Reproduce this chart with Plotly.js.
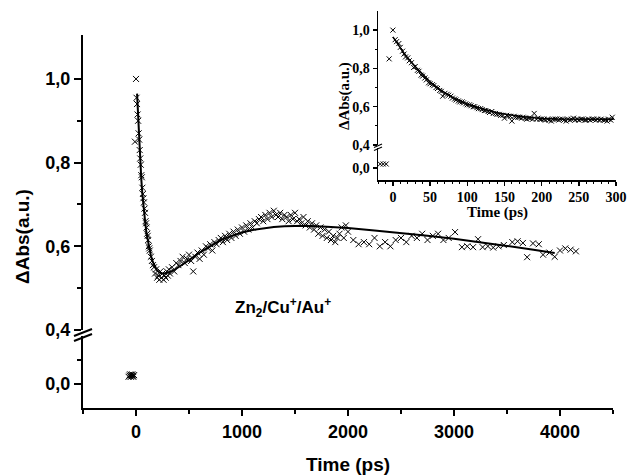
<!DOCTYPE html>
<html>
<head>
<meta charset="utf-8">
<script src="https://cdn.plot.ly/plotly-3.0.1.min.js"></script>
<style>html,body{margin:0;padding:0;background:#fff;}</style>
</head>
<body>
<div id="chart" style="width:627px;height:475px;"></div>
<script>
// ---- Main plot data ----
const mainPreT = [-70,-62,-55,-50,-45,-40,-35,-30,-25,-18];
const mainPreY = [0.03,0.035,0.04,0.03,0.038,0.032,0.04,0.035,0.03,0.037];

const mainT = [-10,0,5,10,15,20,25,30,35,40,45,50,55,60,65,70,75,80,85,90,95,100,105,110,115,120,125,130,140,150,160,170,180,190,200,210,220,230,240,250,260,270,280,290,300,310,320,340,360,380,400,420,440,460,480,500,520,540,560,580,600,620,640,660,680,700,720,740,760,780,800,820,840,860,880,900,920,940,960,980,1000,1020,1040,1060,1080,1100,1120,1140,1160,1180,1200,1220,1240,1260,1280,1300,1320,1340,1360,1380,1400,1420,1440,1460,1480,1500,1520,1540,1560,1580,1600,1620,1640,1660,1680,1700,1720,1740,1760,1780,1800,1820,1840,1860,1880,1900,1920,1940,1960,1980,2000,2050,2100,2150,2200,2250,2300,2350,2400,2450,2500,2550,2600,2650,2700,2750,2800,2850,2900,2950,3010,3075,3125,3180,3227,3270,3320,3370,3420,3470,3550,3600,3650,3690,3745,3800,3840,3900,3950,4000,4050,4100,4150];
const mainY = [0.85,1.0,0.955,0.94,0.915,0.9,0.87,0.855,0.83,0.81,0.795,0.77,0.765,0.74,0.725,0.715,0.705,0.69,0.68,0.66,0.655,0.645,0.63,0.625,0.615,0.6,0.595,0.59,0.575,0.565,0.555,0.55,0.535,0.545,0.525,0.53,0.52,0.54,0.525,0.535,0.52,0.53,0.525,0.54,0.53,0.545,0.535,0.55,0.54,0.56,0.555,0.565,0.575,0.56,0.57,0.58,0.565,0.54,0.575,0.585,0.57,0.59,0.58,0.6,0.595,0.605,0.59,0.61,0.605,0.615,0.62,0.61,0.625,0.615,0.63,0.62,0.635,0.625,0.64,0.63,0.645,0.635,0.65,0.64,0.655,0.645,0.66,0.655,0.665,0.67,0.66,0.675,0.665,0.68,0.67,0.685,0.675,0.67,0.68,0.665,0.675,0.67,0.66,0.675,0.665,0.68,0.66,0.665,0.655,0.67,0.65,0.66,0.645,0.655,0.64,0.65,0.63,0.645,0.625,0.64,0.62,0.635,0.615,0.625,0.61,0.62,0.63,0.645,0.62,0.65,0.635,0.615,0.605,0.61,0.605,0.62,0.6,0.61,0.6,0.615,0.62,0.61,0.625,0.62,0.63,0.615,0.625,0.63,0.615,0.62,0.634,0.598,0.6,0.598,0.617,0.598,0.6,0.597,0.6,0.603,0.61,0.612,0.608,0.574,0.607,0.605,0.58,0.585,0.575,0.59,0.595,0.592,0.588];

const fitT = [10,20,30,40,50,60,70,80,90,100,120,140,160,180,200,225,250,275,300,350,400,450,500,600,700,800,900,1000,1100,1200,1300,1400,1500,1600,1800,2000,2250,2500,2750,3000,3250,3500,3750,3950];
const fitY = [0.965,0.905,0.85,0.80,0.76,0.725,0.695,0.67,0.65,0.63,0.6,0.578,0.562,0.55,0.542,0.537,0.535,0.535,0.537,0.542,0.55,0.558,0.567,0.585,0.6,0.615,0.625,0.633,0.639,0.643,0.646,0.648,0.649,0.649,0.647,0.644,0.638,0.632,0.625,0.618,0.61,0.601,0.592,0.584];

// ---- Inset data ----
const insPreT = [-17,-13,-9];
const insPreY = [0.02,0.02,0.02];
const insT = [-5,0,3,5,8,10,13,15,17,20,22,25,28,30,33,35,38,40,43,45,48,50,53,55,58,60,63,65,67,70,73,75,78,80,83,85,88,90,93,95,98,100,103,105,108,110,113,115,118,120,123,125,128,130,133,135,138,140,143,145,148,150,153,155,158,160,163,165,168,170,173,175,178,180,183,185,188,190,193,195,198,200,203,205,208,210,213,215,218,220,223,225,228,230,233,235,238,240,243,245,248,250,253,255,258,260,263,265,268,270,273,275,278,280,283,285,288,290,293,295];
const insY = [0.85,1.0,0.95,0.94,0.93,0.91,0.89,0.875,0.86,0.855,0.84,0.83,0.805,0.81,0.79,0.785,0.765,0.76,0.75,0.74,0.725,0.72,0.715,0.71,0.7,0.695,0.685,0.68,0.655,0.67,0.665,0.66,0.655,0.645,0.64,0.635,0.63,0.625,0.625,0.62,0.615,0.61,0.61,0.605,0.6,0.6,0.595,0.59,0.59,0.585,0.58,0.58,0.575,0.57,0.575,0.565,0.565,0.56,0.56,0.555,0.555,0.54,0.555,0.55,0.55,0.525,0.55,0.545,0.545,0.545,0.54,0.545,0.54,0.535,0.54,0.54,0.535,0.565,0.535,0.54,0.535,0.535,0.535,0.53,0.535,0.53,0.525,0.535,0.535,0.535,0.53,0.535,0.535,0.53,0.525,0.535,0.53,0.535,0.54,0.53,0.535,0.53,0.535,0.535,0.53,0.53,0.535,0.53,0.535,0.535,0.53,0.535,0.53,0.535,0.53,0.53,0.525,0.535,0.53,0.545];
const insFitT = [0,5,10,15,20,25,30,35,40,45,50,60,70,80,90,100,110,120,130,140,150,160,170,180,190,200,220,240,260,280,297];
const insFitY = [0.965,0.935,0.905,0.88,0.855,0.83,0.81,0.79,0.77,0.75,0.73,0.7,0.672,0.65,0.632,0.615,0.601,0.589,0.578,0.569,0.562,0.555,0.55,0.546,0.542,0.539,0.536,0.535,0.534,0.534,0.534];

// ---- Tick labels ----
const mainXTickVals = [0,1000,2000,3000,4000];
const mainXTickText = ['0','1000','2000','3000','4000'];
const mainYTickVals = [0.4,0.6,0.8,1.0];
const mainYTickText = ['0,4','0,6','0,8','1,0'];
const lowYTickVals = [0];
const lowYTickText = ['0,0'];
const insXTickVals = [0,50,100,150,200,250,300];
const insXTickText = ['0','50','100','150','200','250','300'];

const SANS = 'Liberation Sans, Arial, sans-serif';
const SERIF = 'Liberation Serif, Times New Roman, serif';
const mainFont = {family: SANS, size: 18, color: '#000', weight: 'bold'};
const insFont = {family: SERIF, size: 14, color: '#000', weight: 'bold'};

const mk = (sz) => ({symbol: 'x-thin-open', size: sz, color: '#000', line: {color: '#000', width: 1}});

const traces = [
  {x: mainPreT, y: mainPreY, xaxis: 'x', yaxis: 'y2', mode: 'markers', marker: mk(6), cliponaxis: false},
  {x: mainT, y: mainY, xaxis: 'x', yaxis: 'y', mode: 'markers', marker: mk(6), cliponaxis: false},
  {x: fitT, y: fitY, xaxis: 'x', yaxis: 'y', mode: 'lines', line: {color: '#000', width: 2}},
  {x: insPreT, y: insPreY, xaxis: 'x2', yaxis: 'y4', mode: 'markers', marker: mk(5), cliponaxis: false},
  {x: insT, y: insY, xaxis: 'x2', yaxis: 'y3', mode: 'markers', marker: mk(5), cliponaxis: false},
  {x: insFitT, y: insFitY, xaxis: 'x2', yaxis: 'y3', mode: 'lines', line: {color: '#000', width: 1.5}}
];

const W = 533, H = 397, L = 83, T = 11;
const px = (p) => (p - L) / W;
const py = (p) => (T + H - p) / H;

const axBase = {showline: true, linecolor: '#000', showgrid: false, zeroline: false, ticks: 'outside', tickcolor: '#000', fixedrange: true};

const layout = {
  width: 627, height: 475,
  margin: {l: L, r: 627 - L - W, t: T, b: 475 - T - H},
  paper_bgcolor: '#fff', plot_bgcolor: 'rgba(0,0,0,0)',
  showlegend: false,
  xaxis: Object.assign({}, axBase, {
    domain: [0, 530 / W], range: [-500, 4500], anchor: 'y2',
    linewidth: 2, tickwidth: 2, ticklen: 6,
    tickvals: mainXTickVals, ticktext: mainXTickText, tickfont: mainFont,
    minor: {tickvals: [-500,500,1500,2500,3500,4500], ticklen: 4, tickwidth: 2, tickcolor: '#000', ticks: 'outside'}
  }),
  yaxis: Object.assign({}, axBase, {
    domain: [py(330), py(35)], range: [0.4, 1.105], anchor: 'x',
    linewidth: 2, tickwidth: 2, ticklen: 7,
    tickvals: mainYTickVals, ticktext: mainYTickText, tickfont: mainFont,
    minor: {tickvals: [0.5,0.7,0.9], ticklen: 4, tickwidth: 2, tickcolor: '#000', ticks: 'outside'}
  }),
  yaxis2: Object.assign({}, axBase, {
    domain: [0, py(336)], range: [-0.1, 0.2], anchor: 'x',
    linewidth: 2, tickwidth: 2, ticklen: 7,
    tickvals: lowYTickVals, ticktext: lowYTickText, tickfont: mainFont,
    minor: {tickvals: [0.1], ticklen: 4, tickwidth: 2, tickcolor: '#000', ticks: 'outside'}
  }),
  xaxis2: Object.assign({}, axBase, {
    domain: [px(378), 1], range: [-20, 300], anchor: 'y4',
    linewidth: 1.5, tickwidth: 1.5, ticklen: 4,
    tickvals: insXTickVals, ticktext: insXTickText, tickfont: insFont,
    minor: {dtick: 10, tick0: 0, ticklen: 2, tickwidth: 1, tickcolor: '#000', ticks: 'outside'}
  }),
  yaxis3: Object.assign({}, axBase, {
    domain: [py(145), 1], range: [0.4, 1.1], anchor: 'x2',
    linewidth: 1.5, tickwidth: 1.5, ticklen: 4,
    tickvals: mainYTickVals, ticktext: mainYTickText, tickfont: insFont,
    minor: {tickvals: [0.5,0.7,0.9], ticklen: 2, tickwidth: 1, tickcolor: '#000', ticks: 'outside'}
  }),
  yaxis4: Object.assign({}, axBase, {
    domain: [py(180), py(148)], range: [-0.06, 0.1], anchor: 'x2',
    linewidth: 1.5, tickwidth: 1.5, ticklen: 4,
    tickvals: lowYTickVals, ticktext: lowYTickText, tickfont: insFont
  }),
  shapes: [
    {type: 'line', xref: 'paper', yref: 'paper', x0: px(74), y0: py(336), x1: px(92), y1: py(329), line: {color: '#000', width: 2}},
    {type: 'line', xref: 'paper', yref: 'paper', x0: px(74), y0: py(341), x1: px(92), y1: py(334), line: {color: '#000', width: 2}},
    {type: 'line', xref: 'paper', yref: 'paper', x0: px(374), y0: py(147.5), x1: px(382), y1: py(144), line: {color: '#000', width: 1.2}},
    {type: 'line', xref: 'paper', yref: 'paper', x0: px(374), y0: py(150.5), x1: px(382), y1: py(147), line: {color: '#000', width: 1.2}}
  ],
  annotations: [
    {xref: 'paper', yref: 'paper', x: px(283), y: py(307), xanchor: 'center', yanchor: 'middle', showarrow: false,
     text: 'Zn<sub>2</sub>/Cu<sup>+</sup>/Au<sup>+</sup>', font: {family: SANS, size: 17, color: '#000', weight: 'bold'}},
    {xref: 'paper', yref: 'paper', x: px(348), y: py(464), xanchor: 'center', yanchor: 'middle', showarrow: false,
     text: 'Time (ps)', font: {family: SANS, size: 19, color: '#000', weight: 'bold'}},
    {xref: 'paper', yref: 'paper', x: px(22), y: py(237), xanchor: 'center', yanchor: 'middle', showarrow: false, textangle: -90,
     text: 'ΔAbs(a.u.)', font: {family: SANS, size: 19, color: '#000', weight: 'bold'}},
    {xref: 'paper', yref: 'paper', x: px(497), y: py(212), xanchor: 'center', yanchor: 'middle', showarrow: false,
     text: 'Time (ps)', font: {family: SERIF, size: 15, color: '#000', weight: 'bold'}},
    {xref: 'paper', yref: 'paper', x: px(344), y: py(96), xanchor: 'center', yanchor: 'middle', showarrow: false, textangle: -90,
     text: 'ΔAbs(a.u.)', font: {family: SERIF, size: 15, color: '#000', weight: 'bold'}}
  ]
};

Plotly.newPlot('chart', traces, layout, {displayModeBar: false, staticPlot: true});
</script>
</body>
</html>
